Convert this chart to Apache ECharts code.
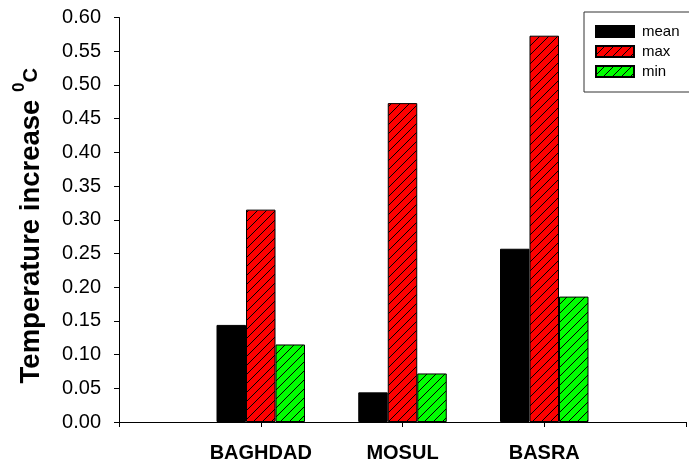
<!DOCTYPE html>
<html>
<head>
<meta charset="utf-8">
<script src="https://cdn.jsdelivr.net/npm/echarts@6/dist/echarts.min.js"></script>
<style>
  html, body { margin: 0; padding: 0; background: #fff; }
  #chart { width: 689px; height: 466px; }
</style>
</head>
<body>
<div id="chart"></div>
<script>
// Cities on the x axis (empty slots pad the ends of the axis)
const cities = ['', 'BAGHDAD', 'MOSUL', 'BASRA', ''];
// Temperature increase (°C) per city
const meanValues = [null, 0.144, 0.044, 0.257, null];
const maxValues  = [null, 0.315, 0.473, 0.573, null];
const minValues  = [null, 0.115, 0.072, 0.186, null];
const yTicks = { min: 0, max: 0.6, step: 0.05 };

const FONT = "'Liberation Sans', Arial, sans-serif";

// Diagonal hatch fill: solid colour with thin black "/" lines
function hatch(bg) {
  const s = 9;
  const c = document.createElement('canvas');
  c.width = s; c.height = s;
  const g = c.getContext('2d');
  g.fillStyle = bg;
  g.fillRect(0, 0, s, s);
  g.fillStyle = '#000';
  // one pixel per row along the anti-diagonal, so the line stays crisp
  for (let y = 0; y < s; y++) {
    g.fillRect(s - 1 - y, y, 1, 1);
  }
  return { image: c, repeat: 'repeat' };
}

const chart = echarts.init(document.getElementById('chart'));

const barBase = {
  type: 'bar',
  barWidth: 29.5,
  barGap: '0%',
  animation: false
};

chart.setOption({
  animation: false,
  textStyle: { fontFamily: FONT, color: '#000' },
  grid: { left: 119, top: 17.5, bottom: 44, right: -12, containLabel: false },
  legend: {
    orient: 'vertical',
    left: 584,
    top: 12,
    padding: [12, 60, 13, 11],
    itemWidth: 38,
    itemHeight: 11,
    itemGap: 5,
    borderColor: '#333',
    borderWidth: 1,
    backgroundColor: '#fff',
    icon: 'rect',
    textStyle: { fontSize: 15, color: '#000', fontFamily: FONT, padding: [0, 0, 0, 3] },
    data: ['mean', 'max', 'min']
  },
  xAxis: {
    type: 'category',
    data: cities,
    boundaryGap: false,
    axisLine: { lineStyle: { color: '#000', width: 1 } },
    axisTick: { show: true, length: 5, lineStyle: { color: '#000' } },
    axisLabel: { fontSize: 20, fontWeight: 'bold', color: '#000', margin: 21, fontFamily: FONT, interval: 0 },
    splitLine: { show: false }
  },
  yAxis: {
    type: 'value',
    min: yTicks.min,
    max: yTicks.max,
    interval: yTicks.step,
    name: '{a|Temperature increase }{b|0}{c|C}',
    nameLocation: 'middle',
    nameRotate: 90,
    nameGap: 74,
    nameTextStyle: {
      fontFamily: FONT,
      padding: [0, 12, 0, 0],
      rich: {
        a: { fontSize: 27.5, fontWeight: 'bold', color: '#000', fontFamily: FONT, verticalAlign: 'bottom', lineHeight: 31 },
        b: { fontSize: 17, fontWeight: 'bold', color: '#000', fontFamily: FONT, verticalAlign: 'bottom', lineHeight: 20, padding: [0, 0, 17, 0] },
        c: { fontSize: 20, fontWeight: 'bold', color: '#000', fontFamily: FONT, verticalAlign: 'bottom', lineHeight: 23, padding: [0, 0, 4, 0] }
      }
    },
    axisLine: { show: true, lineStyle: { color: '#000', width: 1 } },
    axisTick: { show: true, length: 5, lineStyle: { color: '#000' } },
    axisLabel: {
      fontSize: 20, color: '#000', margin: 18, fontFamily: FONT,
      formatter: v => v.toFixed(2)
    },
    splitLine: { show: false }
  },
  series: [
    Object.assign({}, barBase, {
      name: 'mean', data: meanValues,
      itemStyle: { color: '#000', borderColor: '#000', borderWidth: 1 }
    }),
    Object.assign({}, barBase, {
      name: 'max', data: maxValues,
      itemStyle: { color: hatch('#ff0000'), borderColor: '#000', borderWidth: 1 }
    }),
    Object.assign({}, barBase, {
      name: 'min', data: minValues,
      itemStyle: { color: hatch('#00ff00'), borderColor: '#000', borderWidth: 1 }
    })
  ]
});
</script>
</body>
</html>
